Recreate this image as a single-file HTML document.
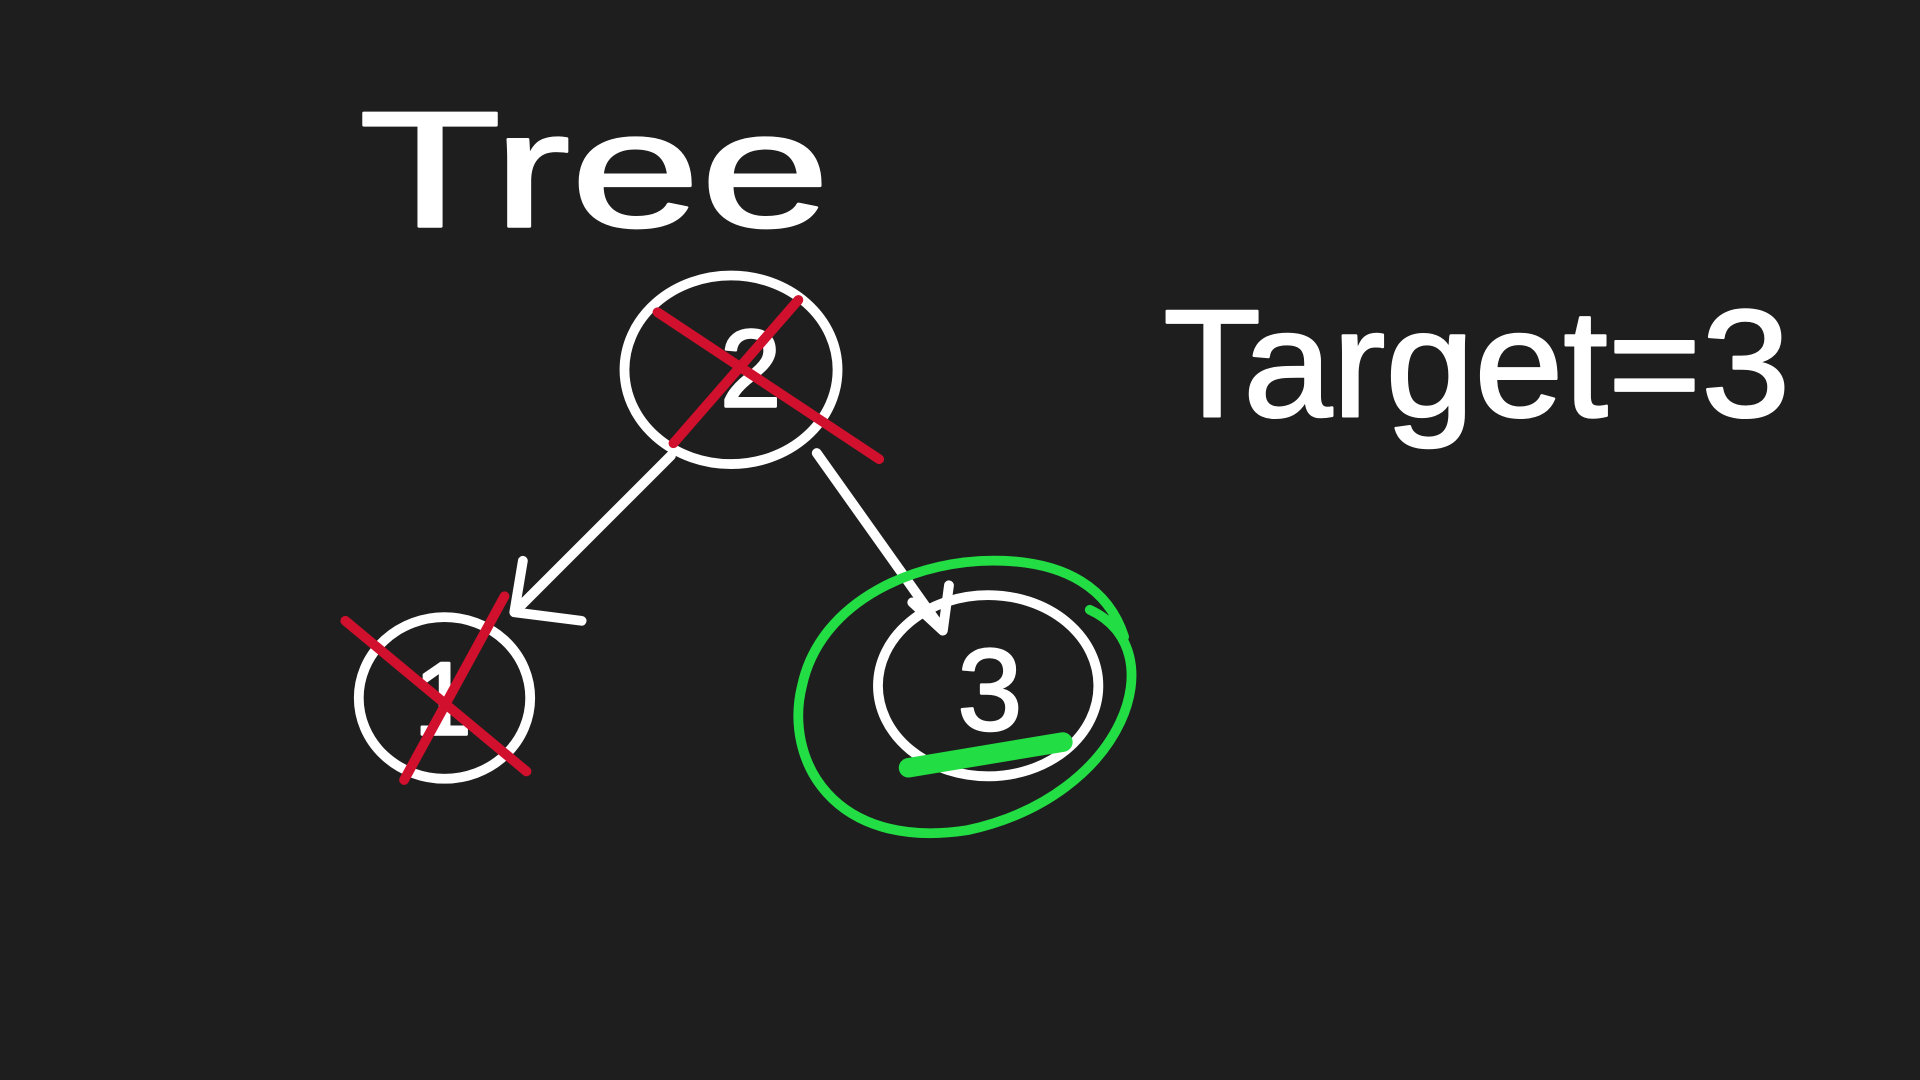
<!DOCTYPE html>
<html><head><meta charset="utf-8"><style>
html,body{margin:0;padding:0;background:#1e1e1e;width:1920px;height:1080px;overflow:hidden}
svg{display:block}
text{font-family:"Liberation Sans",sans-serif;fill:#fff}
</style></head><body>
<svg width="1920" height="1080" viewBox="0 0 1568 882" xmlns="http://www.w3.org/2000/svg">
<rect width="1568" height="882" fill="#1e1e1e"/>
<g stroke-linecap="round" stroke-linejoin="round" fill="none">
<text x="293" y="185" font-size="135" textLength="385" lengthAdjust="spacingAndGlyphs" stroke="#fff" stroke-width="2">Tree</text>
<text x="950" y="340" font-size="125" textLength="512" lengthAdjust="spacingAndGlyphs" stroke="#fff" stroke-width="2">Target=3</text>
<ellipse cx="597" cy="302" rx="87" ry="77" stroke="#fff" stroke-width="8"/>
<ellipse cx="363" cy="570" rx="70" ry="66" stroke="#fff" stroke-width="8"/>
<ellipse cx="807" cy="560" rx="90" ry="74" stroke="#fff" stroke-width="8"/>
<text x="588" y="332" font-size="90" stroke="#fff" stroke-width="2">2</text>
<text x="338" y="600" font-size="85" stroke="#fff" stroke-width="2">1</text>
<text x="782" y="596" font-size="95" stroke="#fff" stroke-width="2">3</text>
<path d="M548 372 L420 500 M427 458 L420 500 L475 507" stroke="#fff" stroke-width="8"/>
<path d="M667 370 L770 515 M745 492 L770 515 L775 478" stroke="#fff" stroke-width="8"/>
<path d="M537 255 L718 375 M652 245 L550 362" stroke="#d0102c" stroke-width="8"/>
<path d="M282 507 L430 630 M412 487 L330 637" stroke="#d0102c" stroke-width="8"/>
<path d="M890 498 C960 530 920 650 790 678 C680 695 640 620 655 560 C670 490 750 455 820 458 C870 460 905 480 918 520" stroke="#22dd44" stroke-width="8"/>
<path d="M742 627 L868 606" stroke="#22dd44" stroke-width="16"/>
</g>
</svg>
</body></html>
